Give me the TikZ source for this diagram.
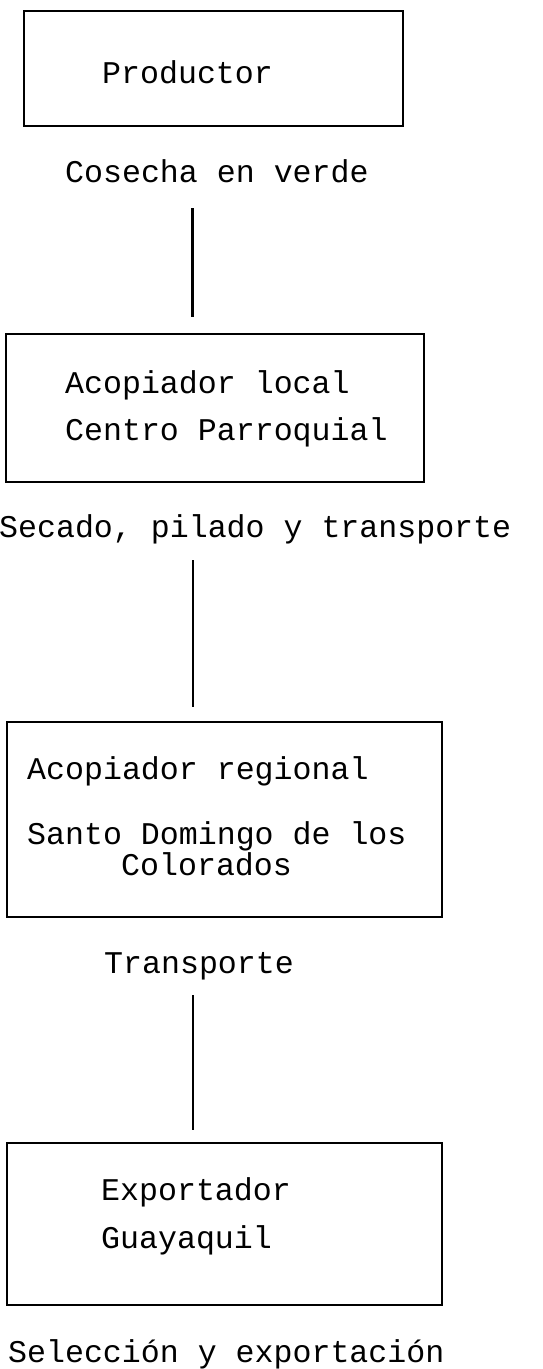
\documentclass[tikz,border=0pt]{standalone}
\usepackage{fontspec}
\setmonofont{Liberation Mono}
\begin{document}
\begin{tikzpicture}[x=1pt,y=-1pt,
  box/.style={draw=black, line width=2.4pt, rectangle, inner sep=0pt},
  lbl/.style={anchor=base west, inner sep=0pt, font=\fontsize{31.6}{36}\selectfont\ttfamily},
  conn/.style={draw=black, line width=2.2pt}]
\useasboundingbox (0,0) rectangle (542,1369);
% boxes
\node[box, minimum width=379pt, minimum height=115pt] (b1) at (213.5,68.5) {};
\node[box, minimum width=418pt, minimum height=148pt] (b2) at (215,408) {};
\node[box, minimum width=435pt, minimum height=195pt] (b3) at (224.5,819.5) {};
\node[box, minimum width=435pt, minimum height=162pt] (b4) at (224.5,1224) {};
% texts
\node[lbl] (t1) at (102,83) {Productor};
\node[lbl] (l1) at (65,182) {Cosecha en verde};
\node[lbl] (t2a) at (65,393) {Acopiador local};
\node[lbl] (t2b) at (65,440) {Centro Parroquial};
\node[lbl] (l2) at (-1,537) {Secado, pilado y transporte};
\node[lbl] (t3a) at (27,779) {Acopiador regional};
\node[lbl] (t3b) at (27,844) {Santo Domingo de los};
\node[lbl] (t3c) at (121,875) {Colorados};
\node[lbl] (l3) at (104,973) {Transporte};
\node[lbl] (t4a) at (101,1200) {Exportador};
\node[lbl] (t4b) at (101,1248) {Guayaquil};
\node[lbl] (l4) at (8,1362) {Selección y exportación};
% connectors
\coordinate (c1a) at (192.5,208);
\coordinate (c1b) at (192.5,317);
\coordinate (c2a) at (193,560);
\coordinate (c2b) at (193,707);
\coordinate (c3a) at (193,995);
\coordinate (c3b) at (193,1130);
\draw[conn] (c1a) -- (c1b);
\draw[conn] (c2a) -- (c2b);
\draw[conn] (c3a) -- (c3b);
\end{tikzpicture}
\end{document}
